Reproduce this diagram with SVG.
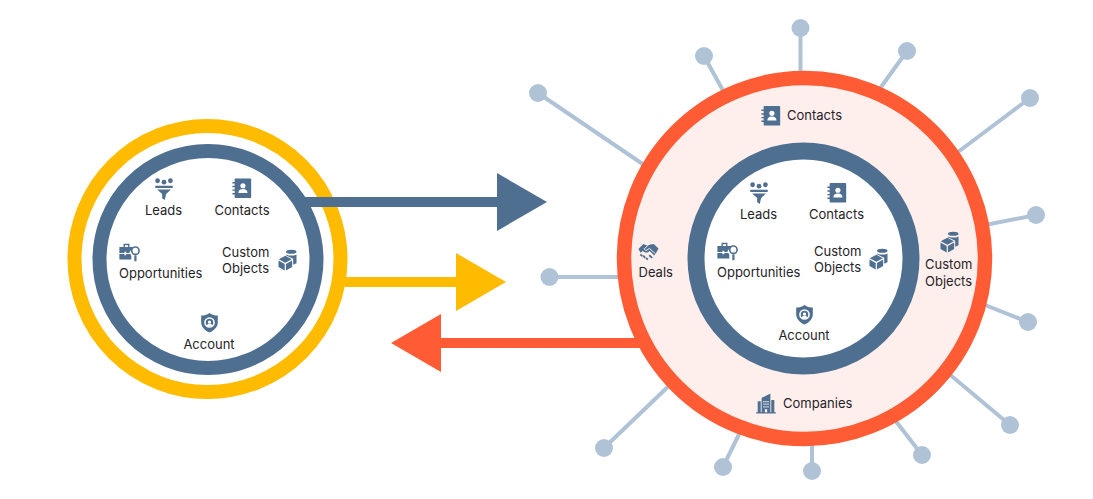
<svg xmlns="http://www.w3.org/2000/svg" width="1093" height="499" viewBox="0 0 1093 499">
<style>
text{font-family:"Inter","Liberation Sans",sans-serif;font-size:13px;fill:#1f2328}
.m{text-anchor:middle}
.ic{fill:#4f6f91}
.sp{stroke:#b0c3d6;stroke-width:4;fill:none}
.dot{fill:#b0c3d6}
</style>
<defs>
<symbol id="i-contacts" viewBox="0 0 24 24" overflow="visible">
<path class="ic" d="M5 1.500H21a1 1 0 0 1 1 1V22a1 1 0 0 1-1 1H5a1 1 0 0 1-1-1V2.500a1 1 0 0 1 1-1Z"/>
<path class="ic" d="M1.500 5.500h4v1.600h-4zM1.500 9.500h4v1.600h-4zM1.500 13.500h4v1.600h-4zM1.500 17.500h4v1.600h-4z"/>
<circle cx="13" cy="9.500" r="2.800" fill="#fff"/><path d="M8 17.500c0-3 2-4.500 5-4.500s5 1.500 5 4.500Z" fill="#fff"/>
</symbol>
<symbol id="i-leads" viewBox="0 0 24 24" overflow="visible">
<circle class="ic" cx="5" cy="3" r="2.600"/><circle class="ic" cx="12" cy="4.500" r="2.600"/><circle class="ic" cx="19" cy="3" r="2.600"/>
<path class="ic" d="M2.500 8.500H21.500V11H2.500ZM4.500 12.500H19.500L14.300 17.500L12.800 24L10 22V17.500Z"/>
</symbol>
<symbol id="i-opp" viewBox="0 0 24 24" overflow="visible">
<path class="ic" d="M1.500 5.500H6V2H12.500V5.500H16.500V8C14 8.500 12.500 10.500 12.500 12H9V10.500H7V12H1.500Z"/>
<path class="ic" d="M1.500 13H7V14.500H9V13H13.500L14.500 15V19H1.500Z"/>
<path d="M7.500 5.500V3.500h3.500v2Z" fill="#fff"/>
<circle cx="19" cy="9.500" r="4" fill="#fff" stroke="#4f6f91" stroke-width="1.800"/>
<rect class="ic" x="17.800" y="14.500" width="2.400" height="6.500" rx=".6"/>
</symbol>
<symbol id="i-obj" viewBox="0 0 24 24" overflow="visible">
<ellipse class="ic" cx="16.300" cy="2" rx="6" ry="2.400"/>
<path class="ic" d="M10.500 5C14 6.800 19 6.800 22.300 5V15L18.500 16.800V10L10.500 6.200Z"/>
<path class="ic" d="M9.500 6.500L17 10.500L9.500 14.500L2 10.500ZM1.700 12L8.800 16V23.300L1.700 19.300ZM10.200 16L17.300 12V19.300L10.200 23.300Z"/>
</symbol>
<symbol id="i-acct" viewBox="0 0 24 24" overflow="visible">
<path class="ic" d="M12 1C15 3 18 4 21.500 4V12C21.500 17 17.500 21 12 23.500C6.500 21 2.500 17 2.500 12V4C6 4 9 3 12 1Z"/>
<circle cx="12" cy="12" r="5.200" fill="none" stroke="#fff" stroke-width="1.800"/>
<circle cx="12" cy="11.500" r="1.900" fill="#fff"/><path d="M8.500 16c.5-2 2-2.700 3.500-2.700s3 .7 3.500 2.700Z" fill="#fff"/>
</symbol>
<symbol id="i-deals" viewBox="0 0 24 24" overflow="visible">
<path class="ic" d="M.5 9L6 3.500L11 5.500L14 4L18 3.500L23.500 8.500L20.500 14L18.500 16.500L13.500 11.500L11 13C8.500 13.500 6.500 12.500 5.500 11L3 13.500Z"/>
<path d="M11 5.500L7 9L9 11L13 8.500L20 14.500" fill="none" stroke="#fff" stroke-width="1"/>
<path class="ic" d="M3.500 14.500l2 2-1.500 1.500-2-2zM6.500 16l2.500 2.500-1.500 1.500-2.500-2.500zM10 18.500l2 2-1.500 1.500-2-2zM13.500 15.500l3.500 3-1.500 1.500-3.500-3z"/>
</symbol>
<symbol id="i-comp" viewBox="0 0 24 24" overflow="visible">
<path class="ic" d="M7 5.500L17 .5V22H7ZM2.500 9.500H6V22H2.500ZM18 8H21.500V22H18ZM.8 22H23.200V23.500H.8Z"/>
<path d="M9 9h1.400v1.500H9zM11.300 9h1.400v1.500h-1.400zM13.600 9h1.400v1.500h-1.400zM9 12h1.400v1.500H9zM11.300 12h1.400v1.500h-1.400zM13.600 12h1.400v1.500h-1.400zM9 15h1.400v1.500H9zM11.300 15h1.400v1.500h-1.400zM13.600 15h1.400v1.500h-1.400zM10.700 18.500h2.600V22h-2.600z" fill="#fff"/>
</symbol>
</defs>

<g id="connectors">
<g class="sp">
<line x1="800.500" y1="28" x2="800.500" y2="80"/>
<line x1="704" y1="56" x2="726" y2="96"/>
<line x1="907" y1="51" x2="876" y2="94"/>
<line x1="538" y1="93" x2="650" y2="169"/>
<line x1="1030" y1="98" x2="950" y2="158"/>
<line x1="1036" y1="215" x2="980" y2="226"/>
<line x1="549.500" y1="277" x2="630" y2="277"/>
<line x1="1028" y1="322" x2="975" y2="301"/>
<line x1="1010" y1="425" x2="942" y2="368"/>
<line x1="604" y1="448" x2="675" y2="380"/>
<line x1="723" y1="467" x2="745" y2="422"/>
<line x1="812" y1="471" x2="812" y2="435"/>
<line x1="922" y1="455" x2="888" y2="411"/>
</g>
<path d="M345 277H456V253L506 282L456 311V287H345Z" fill="#ffbb00"/>
<path d="M650 338H441V314L391 343L441 372V348H650Z" fill="#ff5c35"/>
</g>

<g id="left-outer"><circle cx="207.500" cy="259" r="133" fill="#fff" stroke="#ffbb00" stroke-width="14"/></g>
<g id="left-inner"><circle cx="208" cy="259.500" r="108.500" fill="#fff" stroke="#4f6f91" stroke-width="14"/></g>
<path id="blue-arrow" d="M304 197H497V173L547 202L497 231V207H310Z" fill="#4f6f91"/>

<g id="l-leads"><use href="#i-leads" x="153" y="178" width="22" height="22"/><text class="m" x="163.500" y="214.500">Leads</text></g>
<g id="l-contacts"><use href="#i-contacts" x="231" y="177" width="22" height="22"/><text class="m" x="242" y="214.500">Contacts</text></g>
<g id="l-custom"><use href="#i-obj" x="277" y="250" width="21" height="21"/><text x="222" y="256.500">Custom</text><text x="222" y="273">Objects</text></g>
<g id="l-opp"><use href="#i-opp" x="118" y="242" width="22" height="22"/><text x="119" y="278">Opportunities</text></g>
<g id="l-account"><use href="#i-acct" x="199" y="312" width="21" height="21"/><text class="m" x="209" y="349">Account</text></g>

<g id="spokes-dots">
<circle class="dot" cx="800.500" cy="28" r="9"/><circle class="dot" cx="704" cy="56" r="9"/><circle class="dot" cx="907" cy="51" r="9"/><circle class="dot" cx="538" cy="93" r="9"/><circle class="dot" cx="1030" cy="98" r="9"/><circle class="dot" cx="1036" cy="215" r="9"/><circle class="dot" cx="549.500" cy="277" r="9"/><circle class="dot" cx="1028" cy="322" r="9"/><circle class="dot" cx="1010" cy="425" r="9"/><circle class="dot" cx="604" cy="448" r="9"/><circle class="dot" cx="723" cy="467" r="9"/><circle class="dot" cx="812" cy="471" r="9"/><circle class="dot" cx="922" cy="455" r="9"/>
</g>

<g id="right-outer"><circle cx="804.500" cy="258.500" r="180.500" fill="#ffefec" stroke="#ff5c35" stroke-width="14.500"/></g>
<g id="right-inner"><circle cx="803.500" cy="258.500" r="107.500" fill="#fff" stroke="#4f6f91" stroke-width="17"/></g>

<g id="r-contacts-outer"><use href="#i-contacts" x="760" y="104.500" width="22" height="22"/><text x="787" y="120">Contacts</text></g>
<g id="r-custom-outer"><use href="#i-obj" x="939" y="232" width="21" height="21"/><text x="925" y="269">Custom</text><text x="925" y="285.500">Objects</text></g>
<g id="r-deals"><use href="#i-deals" x="638" y="241" width="21" height="21"/><text x="638.500" y="277">Deals</text></g>
<g id="r-companies"><use href="#i-comp" x="755.500" y="393" width="21" height="21"/><text x="783" y="408">Companies</text></g>
<g id="r-leads"><use href="#i-leads" x="748" y="182" width="22" height="22"/><text class="m" x="758.500" y="219">Leads</text></g>
<g id="r-contacts"><use href="#i-contacts" x="826" y="181.500" width="22" height="22"/><text class="m" x="836.500" y="219">Contacts</text></g>
<g id="r-custom"><use href="#i-obj" x="868" y="249" width="21" height="21"/><text x="814" y="256">Custom</text><text x="814" y="272">Objects</text></g>
<g id="r-opp"><use href="#i-opp" x="716" y="241" width="22" height="22"/><text x="717" y="277">Opportunities</text></g>
<g id="r-account"><use href="#i-acct" x="794" y="304" width="21" height="21"/><text class="m" x="804" y="340">Account</text></g>
</svg>
